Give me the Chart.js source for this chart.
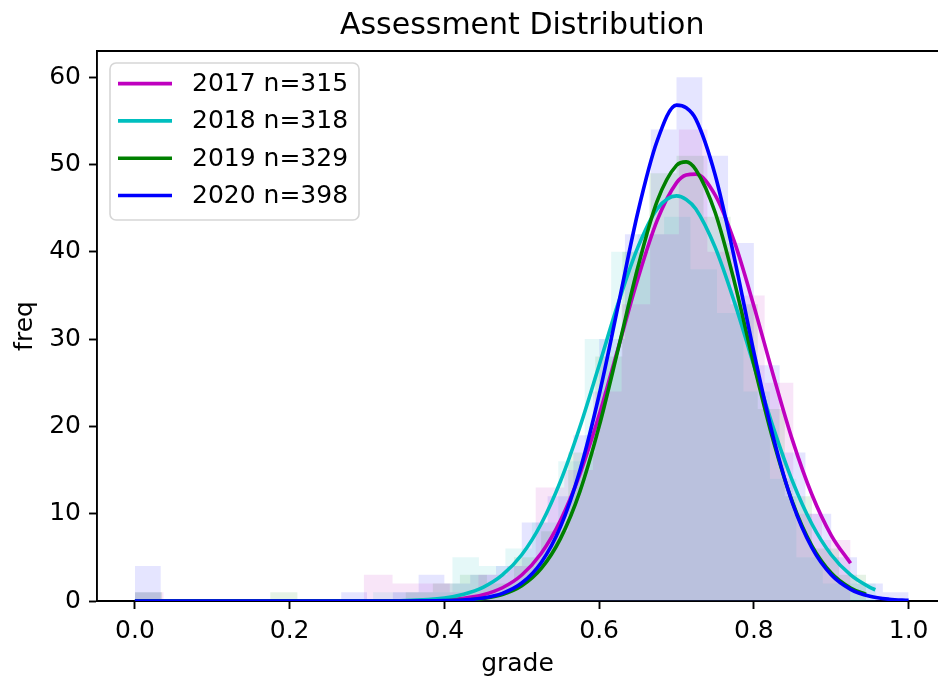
<!DOCTYPE html>
<html>
<head>
<meta charset="utf-8">
<title>Assessment Distribution</title>
<script src="https://cdn.jsdelivr.net/npm/chart.js@4.4.1/dist/chart.umd.min.js"></script>
<style>
  html, body { margin: 0; padding: 0; background: #fff; overflow: hidden; }
  #wrap { width: 938px; height: 679px; }
</style>
</head>
<body>
<div id="wrap"><canvas id="chart"></canvas></div>
<script>
// cohorts
const years = ['2017', '2018', '2019', '2020'];
const sizes = [315, 318, 329, 398];
const colors = ['#bf00bf', '#00bfbf', '#008000', '#0000ff'];
const fills = ['rgba(191,0,191,0.1)', 'rgba(0,191,191,0.1)', 'rgba(0,128,0,0.1)', 'rgba(0,0,255,0.1)'];

// histogram bins: every year starts at 0 with its own bin width
const binStart = [0, 0, 0, 0];
const binWidth = [0.037, 0.0342, 0.035, 1 / 30];
const hist2017 = [1, 0, 0, 0, 0, 0, 0, 0, 3, 2, 2, 1, 3, 4, 13, 15, 24, 34, 42, 54, 40, 35, 25, 10, 7];
const hist2018 = [1, 0, 0, 0, 0, 0, 0, 0, 0, 1, 1, 1, 5, 4, 6, 9, 16, 30, 40, 42, 44, 38, 33, 24, 14, 5, 2, 2];
const hist2019 = [1, 0, 0, 0, 0, 1, 0, 0, 0, 0, 1, 2, 3, 2, 5, 8, 17, 28, 40, 49, 51, 44, 34, 22, 12, 6, 3];
const hist2020 = [4, 0, 0, 0, 0, 0, 0, 0, 1, 0, 1, 3, 2, 3, 4, 9, 12, 19, 30, 42, 54, 60, 51, 41, 27, 17, 10, 5, 2, 1];

// fitted normal curves sampled on a common grade grid, each with its own last point
const gradeGrid = [0, 0.1, 0.2, 0.3, 0.35, 0.4, 0.425, 0.45, 0.475, 0.5, 0.525, 0.55, 0.575, 0.6, 0.625,
  0.65, 0.675, 0.7, 0.7125, 0.725, 0.75, 0.775, 0.8, 0.825, 0.85, 0.875, 0.9, 0.925, 0.95, 0.975];
const fit2017 = [0, 0, 0, 0, 0.02, 0.13, 0.32, 0.72, 1.52, 2.98, 5.44, 9.22, 14.5, 21.3, 29.1,
  36.9, 43.6, 47.9, 48.8, 48.9, 46.5, 41.1, 33.8, 25.9, 18.4, 12.2, 7.53];
const fit2018 = [0, 0, 0, 0.01, 0.06, 0.35, 0.77, 1.56, 2.98, 5.30, 8.82, 13.7, 19.9, 27.0, 34.2,
  40.5, 44.9, 46.4, 46.0, 44.9, 40.5, 34.2, 27.0, 19.9, 13.7, 8.82, 5.30, 2.98, 1.56];
const fit2019 = [0, 0, 0, 0, 0, 0.03, 0.10, 0.29, 0.75, 1.75, 3.71, 7.15, 12.5, 20.0, 29.0,
  38.2, 45.8, 49.9, 50.3, 49.4, 44.5, 36.5, 27.1, 18.4, 11.3, 6.32, 3.21, 1.49];
const fit2020 = [0, 0, 0, 0, 0, 0.04, 0.12, 0.34, 0.88, 2.06, 4.39, 8.49, 14.9, 23.6, 34.0,
  44.5, 52.7, 56.8, 56.5, 55.2, 48.8, 39.2, 28.5, 18.8, 11.2, 6.10, 3.00, 1.34, 0.54, 0.20];
const fitEndX = [0.925, 0.957, 0.945, 1.0];
const fitEndY = [4.32, 1.29, 0.75, 0.07];

// axis ticks
const xTicks = [0, 0.2, 0.4, 0.6, 0.8, 1.0];
const yTicks = [0, 10, 20, 30, 40, 50, 60];

const hists = [hist2017, hist2018, hist2019, hist2020];
const fits = [fit2017, fit2018, fit2019, fit2020];
const FONT = 'DejaVu Sans';
const X_MAX = 1.038;

function histPoints(k) {
  const c = hists[k];
  const pts = c.map((v, i) => ({ x: binStart[k] + i * binWidth[k], y: v }));
  pts.push({ x: binStart[k] + c.length * binWidth[k], y: c[c.length - 1] });
  return pts;
}

function fitPoints(k) {
  const pts = fits[k].map((v, i) => ({ x: gradeGrid[i], y: v }));
  pts.push({ x: fitEndX[k], y: fitEndY[k] });
  return pts;
}

const datasets = [];
years.forEach((yr, k) => {
  datasets.push({
    label: yr + ' n=' + sizes[k],
    data: fitPoints(k),
    borderColor: colors[k],
    borderWidth: 3.6,
    pointRadius: 0,
    fill: false,
    cubicInterpolationMode: 'monotone',
    order: 3 - k
  });
});
years.forEach((yr, k) => {
  datasets.push({
    label: 'hist ' + yr,
    data: histPoints(k),
    stepped: 'before',
    borderWidth: 0,
    borderColor: 'rgba(0,0,0,0)',
    backgroundColor: fills[k],
    pointRadius: 0,
    fill: 'origin',
    order: 10 + k
  });
});

// title over the axes, top spine and the boxed legend in the upper-left corner
const framePlugin = {
  id: 'frame',
  afterDraw(chart) {
    const { ctx, chartArea } = chart;
    const xs = chart.scales.x;
    ctx.save();

    // the axes run on past the right edge of the canvas; centre the title on the full axes
    const axesRight = xs.getPixelForValue(1.05);
    ctx.fillStyle = '#000';
    ctx.font = '30px "' + FONT + '"';
    ctx.textAlign = 'center';
    ctx.textBaseline = 'middle';
    ctx.fillText('Assessment Distribution', (chartArea.left + axesRight) / 2, 26);

    ctx.strokeStyle = '#000';
    ctx.lineWidth = 1.9;
    ctx.beginPath();
    ctx.moveTo(chartArea.left - 1, chartArea.top);
    ctx.lineTo(chartArea.right, chartArea.top);
    ctx.stroke();

    const bx = chartArea.left + 13, by = chartArea.top + 12;
    const bw = 249, bh = 157;
    ctx.beginPath();
    ctx.roundRect(bx, by, bw, bh, 6);
    ctx.fillStyle = 'rgba(255,255,255,0.8)';
    ctx.fill();
    ctx.strokeStyle = 'rgba(204,204,204,0.8)';
    ctx.lineWidth = 1.6;
    ctx.stroke();

    ctx.font = '25px "' + FONT + '"';
    ctx.textAlign = 'left';
    years.forEach((yr, k) => {
      const ly = by + 20.6 + k * 37.3;
      ctx.strokeStyle = colors[k];
      ctx.lineWidth = 3.6;
      ctx.beginPath();
      ctx.moveTo(bx + 8, ly);
      ctx.lineTo(bx + 62, ly);
      ctx.stroke();
      ctx.fillStyle = '#000';
      ctx.fillText(yr + ' n=' + sizes[k], bx + 82, ly + 1);
    });
    ctx.restore();
  }
};

new Chart(document.getElementById('chart'), {
  type: 'line',
  data: { datasets: datasets },
  options: {
    responsive: true,
    maintainAspectRatio: false,
    animation: false,
    events: [],
    layout: { padding: { top: 51, left: 0, right: 0, bottom: 0 } },
    plugins: {
      legend: { display: false },
      tooltip: { enabled: false },
      title: { display: false }
    },
    scales: {
      x: {
        type: 'linear',
        min: -0.049,
        max: X_MAX,
        afterFit: s => { s.height = 78; },
        afterBuildTicks: s => { s.ticks = xTicks.map(v => ({ value: v })); },
        ticks: {
          color: '#000',
          padding: 7,
          maxRotation: 0,
          font: { family: FONT, size: 25 },
          callback: v => v.toFixed(1)
        },
        grid: { drawOnChartArea: false, drawTicks: true, tickLength: 8, tickColor: '#000', tickWidth: 1.9 },
        border: { color: '#000', width: 1.9 },
        title: {
          display: true,
          text: 'grade',
          color: '#000',
          font: { family: FONT, size: 25 },
          padding: { top: 0, bottom: 0 }
        }
      },
      y: {
        min: 0,
        max: 63,
        afterFit: s => { s.width = 97; },
        afterBuildTicks: s => { s.ticks = yTicks.map(v => ({ value: v })); },
        ticks: {
          color: '#000',
          padding: 8,
          font: { family: FONT, size: 25 }
        },
        grid: { drawOnChartArea: false, drawTicks: true, tickLength: 8, tickColor: '#000', tickWidth: 1.9 },
        border: { color: '#000', width: 1.9 },
        title: {
          display: true,
          text: 'freq',
          color: '#000',
          font: { family: FONT, size: 25 },
          padding: { top: 10, bottom: 0 }
        }
      }
    }
  },
  plugins: [framePlugin]
});
</script>
</body>
</html>
